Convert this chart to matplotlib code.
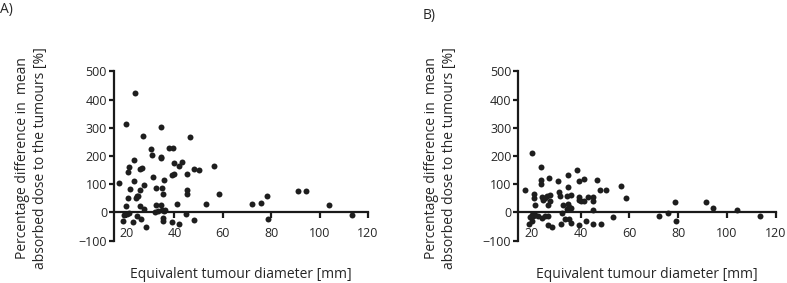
import matplotlib
matplotlib.use("Agg")
import matplotlib.pyplot as plt

plt.rcParams['font.family'] = ['Open Sans', 'DejaVu Sans']

# Panel A: equivalent tumour diameter [mm] vs percentage difference [%]
a_x = [17.0, 19.9, 23.6, 26.9, 46.4, 34.5, 30.5, 30.7, 37.9, 39.3, 34.5, 34.6,
       23.4, 21.0, 20.7, 25.9, 26.6, 39.8, 41.9, 43.3, 48.0, 50.2, 56.5, 39.8,
       39.1, 45.1, 31.3, 35.8, 23.3, 27.3, 21.5, 25.6, 32.5, 34.9, 45.1, 45.1,
       35.4, 24.5, 24.0, 25.1, 20.7, 58.3, 20.0, 25.9, 27.2, 32.4, 34.5, 41.1,
       53.2, 72.1, 75.7, 78.4, 91.2, 94.4, 103.9, 32.0, 33.2, 34.7, 35.5, 36.0,
       19.0, 20.3, 18.9, 22.8, 24.5, 26.3, 28.3, 35.4, 35.2, 39.0, 41.9, 44.8,
       48.0, 78.8, 113.4, 21.2]
a_y = [106, 314, 422, 270, 269, 301, 224, 204, 230, 228, 197, 193,
       186, 160, 145, 154, 157, 175, 165, 178, 153, 150, 163, 137,
       132, 137, 124, 116, 112, 97, 84, 79, 86, 87, 78, 64,
       64, 57, 52, 59, 50, 66, 24, 24, 14, 26, 26, 31,
       29, 29, 35, 58, 77, 75, 28, 3, 4, 7, 5, 9,
       -9, -5, -31, -33, -14, -24, -50, -21, -31, -33, -40, -5,
       -27, -24, -8, -3]

# Panel B
b_x = [17.3, 20.0, 23.8, 23.8, 23.6, 27.2, 30.8, 38.4, 34.8, 39.4, 41.6, 46.6,
       56.6, 58.5, 48.1, 50.3, 34.8, 31.1, 31.6, 21.1, 21.0, 21.2, 24.1, 25.5,
       26.1, 27.5, 27.6, 26.7, 24.8, 34.6, 36.0, 32.8, 34.8, 35.3, 34.3, 36.0,
       39.3, 39.3, 40.2, 41.4, 43.2, 45.2, 45.2, 45.2, 32.3, 20.0, 19.3, 20.7,
       21.4, 22.7, 24.1, 25.5, 26.6, 19.0, 20.2, 26.8, 28.3, 32.2, 33.7, 35.4,
       36.0, 39.3, 42.3, 45.0, 48.3, 53.5, 72.3, 75.7, 78.6, 79.0, 91.5, 94.5,
       104.0, 113.6]
b_y = [79, 210, 160, 116, 101, 121, 113, 152, 131, 113, 120, 116,
       93, 52, 79, 78, 90, 74, 60, 66, 52, 26, 54, 51,
       58, 63, 39, 26, 45, 60, 61, 25, 29, 20, 13, 15,
       55, 44, 39, 40, 54, 55, 39, 8, -1, -9, -16, -14,
       -10, -14, -18, -13, -12, -40, -31, -44, -53, -42, -24, -24,
       -38, -45, -29, -40, -41, -15, -14, -1, 37, -31, 38, 15,
       9, -13]

x_ticks = [20, 40, 60, 80, 100, 120]
y_ticks = [-100, 0, 100, 200, 300, 400, 500]
xlabel = "Equivalent tumour diameter [mm]"
ylabel = "Percentage difference in  mean\nabsorbed dose to the tumours [%]"

W, H = 787, 283
fig = plt.figure(figsize=(W / 100, H / 100), dpi=100)

txt_color = '#262626'
dot_color = '#1e1e1e'

def make_panel(left_px, right_px, xs, ys, xmin, letter, letter_px, ylab_px):
    top_px, bot_px = 71.3, 240.7
    ax = fig.add_axes([left_px / W, (H - bot_px) / H,
                       (right_px - left_px) / W, (bot_px - top_px) / H])
    ax.plot(xs, ys, 'o', color=dot_color, ms=4.3, mec='none', clip_on=False)
    ax.set_xlim(xmin, 120)
    ax.set_ylim(-100, 500)
    ax.spines['top'].set_visible(False)
    ax.spines['right'].set_visible(False)
    ax.spines['bottom'].set_position(('data', 0))
    ax.spines['bottom'].set_bounds(xmin, 120)
    for s in ('left', 'bottom'):
        ax.spines[s].set_linewidth(1.6)
        ax.spines[s].set_color('#1a1a1a')
    ax.set_xticks(x_ticks)
    ax.set_yticks(y_ticks)
    ax.tick_params(axis='both', width=1.6, color='#1a1a1a',
                   labelsize=9, labelcolor=txt_color)
    ax.tick_params(axis='y', length=3.5, pad=1.5)
    ax.tick_params(axis='x', length=4.5, pad=6)
    ax.set_xlabel(xlabel, fontsize=10, color=txt_color)
    ax.xaxis.set_label_coords(0.5, -0.155)
    ax.set_ylabel(ylabel, fontsize=10, color=txt_color, linespacing=1.25)
    ax.yaxis.set_label_coords((ylab_px - left_px) / (right_px - left_px), 0.49)
    fig.text(letter_px[0] / W, 1 - letter_px[1] / H, letter, fontsize=10,
             color=txt_color, ha='left', va='center')
    return ax

make_panel(114, 368, a_x, a_y, 15.0, "A)", (0, 10), 48)
make_panel(518.3, 775.7, b_x, b_y, 14.5, "B)", (423, 15), 457)

fig.savefig("out.png", dpi=100)
